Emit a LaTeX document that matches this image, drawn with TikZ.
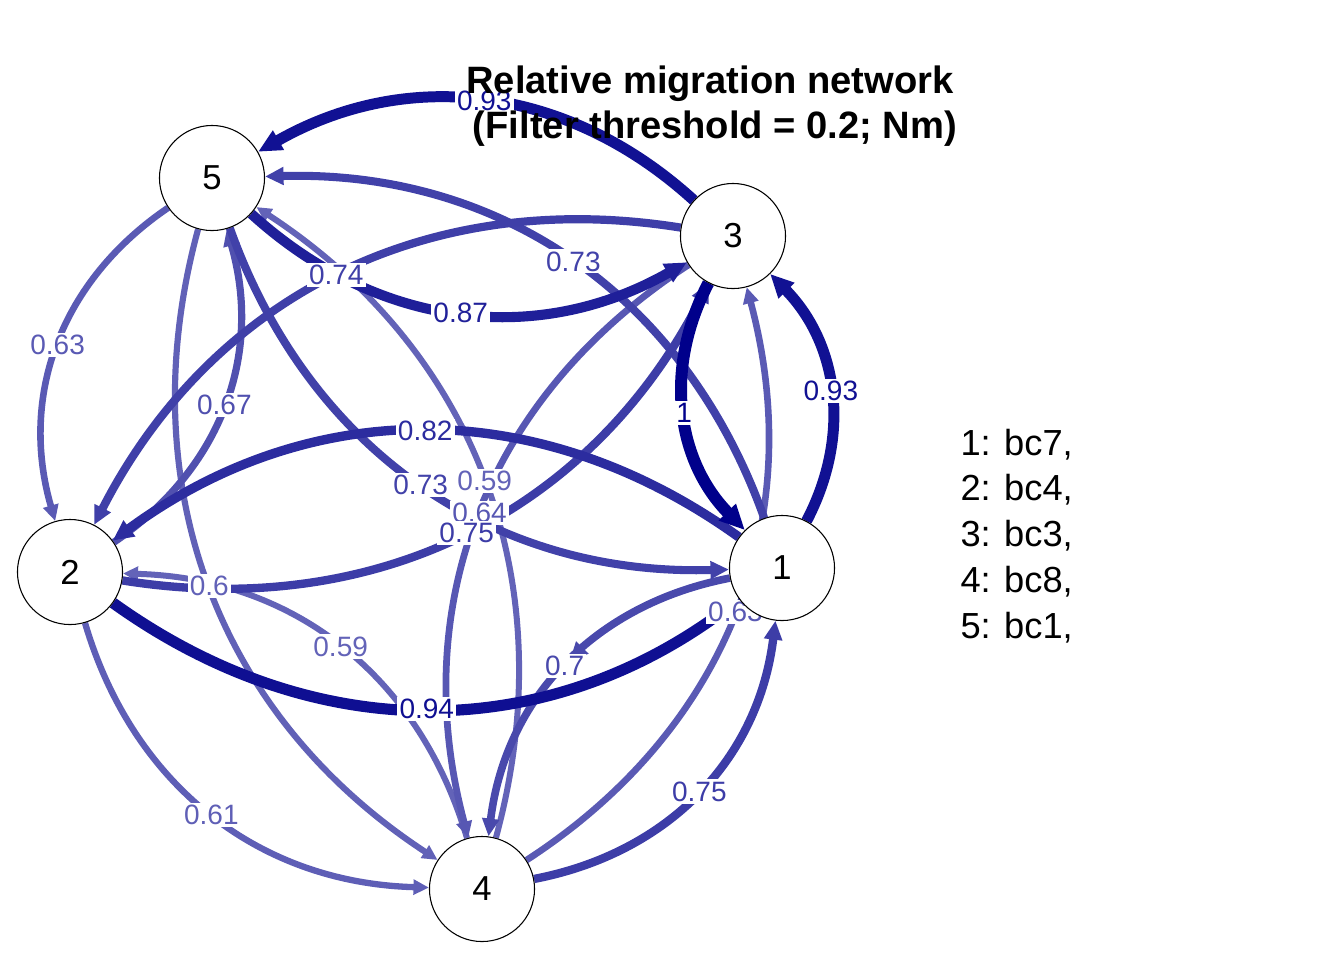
\documentclass[tikz,border=0pt]{standalone}
\usepackage{fontspec}
\setmainfont{Liberation Sans}
\usetikzlibrary{arrows.meta,decorations.markings}
\definecolor{eblue}{RGB}{0,0,139}
\pgfdeclarelayer{edges}
\pgfdeclarelayer{labels}
\pgfsetlayers{edges,labels,main}

\begin{document}
\begin{tikzpicture}[x=0.375pt, y=-0.375pt,
    vtx/.style={circle, draw=black, line width=0.4pt, fill=white, minimum size=39.4pt, inner sep=0pt, font=\fontsize{13}{15}\selectfont},
    edge/.style={-{Triangle[length=1.8pt 1.7, width=2.3pt 1.35]}},
    nomid/.style={},
    midarrow/.style={postaction={decorate}, decoration={markings, mark=at position 0.48 with {\arrow{Triangle[length=1.8pt 1.7, width=2.3pt 1.35]}}}},
    elabel/.style={fill=white, inner sep=0.8pt, font=\fontsize{10.5}{12}\selectfont},
    ttl/.style={anchor=base, inner sep=0pt, font=\fontsize{14.3}{17}\selectfont\bfseries},
    legtext/.style={anchor=base west, inner sep=0pt, font=\fontsize{13.6}{16}\selectfont}]
    \useasboundingbox (0,0) rectangle (1344,960);

    % populations
    \node[vtx] (n1) at (782,568) {1};
    \node[vtx] (n2) at (70,572) {2};
    \node[vtx] (n3) at (733,236) {3};
    \node[vtx] (n4) at (482,889) {4};
    \node[vtx] (n5) at (212,178) {5};

    % migration edges, weakest first
    \foreach \a/\b/\w/\x in {4/2/0.59/nomid, 4/5/0.59/nomid, 5/4/0.6/nomid, 2/4/0.61/nomid,
            5/2/0.63/nomid, 4/3/0.63/nomid, 3/4/0.64/nomid, 2/5/0.67/nomid, 1/4/0.7/midarrow,
            1/5/0.73/nomid, 5/1/0.73/nomid, 3/2/0.74/nomid, 2/3/0.75/nomid, 4/1/0.75/nomid,
            1/2/0.82/nomid, 5/3/0.87/nomid, 1/3/0.93/nomid, 3/5/0.93/nomid, 2/1/0.94/nomid, 3/1/1/nomid}{
        \pgfmathsetmacro\p{5+95*\w}
        \pgfmathsetmacro\lw{0.375*(14.6*\w-2.6)}
        \begin{pgfonlayer}{edges}
            \draw[edge, draw=eblue!\p!white, line width=\lw pt, \x] (n\a) to[bend right=36] coordinate[midway] (m\a\b) (n\b);
        \end{pgfonlayer}
        \begin{pgfonlayer}{labels}
            \node[elabel, text=eblue!\p!white] (l\a\b) at (m\a\b) {\w};
        \end{pgfonlayer}
    }

    % title
    \node[ttl] (ttl1) at (710,93) {Relative migration network};
    \node[ttl] (ttl2) at (715,138) {(Filter threshold = 0.2; Nm)};

    % legend
    \foreach \i/\s in {1/bc7, 2/bc4, 3/bc3, 4/bc8, 5/bc1}
        \node[legtext] (leg\i) at (960,409.2+45.8*\i) {\i: \s,};
\end{tikzpicture}
\end{document}
